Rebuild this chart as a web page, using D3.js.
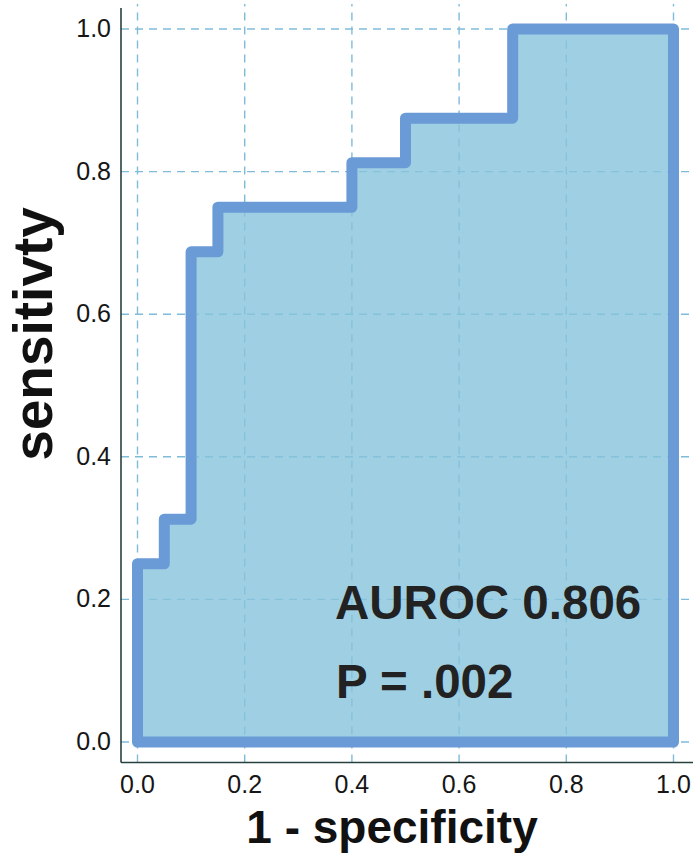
<!DOCTYPE html>
<html>
<head>
<meta charset="utf-8">
<script src="https://cdn.jsdelivr.net/npm/d3@7"></script>
<style>
  html, body { margin: 0; padding: 0; background: #fff; }
  svg { display: block; font-family: "Liberation Sans", Arial, sans-serif; }
</style>
</head>
<body>
<svg id="roc" width="693" height="858"></svg>
<script>
// ROC points (1 - specificity, sensitivity)
var rocFpr = [0, 0, 0.05, 0.10, 0.15, 0.40, 0.50, 0.70, 1.0];
var rocTpr = [0, 0.25, 0.3125, 0.6875, 0.75, 0.8125, 0.875, 1.0, 1.0];
var tickValues = [0, 0.2, 0.4, 0.6, 0.8, 1.0];
var xTitle = "1 - specificity";
var yTitle = "sensitivty";
var notes = ["AUROC 0.806", "P = .002"];

var svg = d3.select("svg#roc");
var axisX = 121, axisY = 762.5;

var xScale = d3.scaleLinear().domain([0, 1]).range([137.5, 673.5]);
var yScale = d3.scaleLinear().domain([0, 1]).range([742, 29]);

// grid
var grid = svg.append("g").attr("class", "grid")
  .style("stroke", "#7fbcd9").style("stroke-width", 1.4).style("stroke-dasharray", "8,6");
tickValues.forEach(function (t) {
  grid.append("line")
    .attr("x1", xScale(t)).attr("x2", xScale(t))
    .attr("y1", axisY).attr("y2", 4);
  grid.append("line")
    .attr("x1", axisX).attr("x2", 690)
    .attr("y1", yScale(t)).attr("y2", yScale(t));
});

// curve (step) closed along the bottom
var pts = rocFpr.map(function (f, i) { return [f, rocTpr[i]]; });
pts.push([1, 0]);
var line = d3.line()
  .x(function (d) { return xScale(d[0]); })
  .y(function (d) { return yScale(d[1]); })
  .curve(d3.curveStepAfter);

svg.append("path")
  .attr("d", line(pts) + "Z")
  .style("fill", "#87c3db").style("fill-opacity", 0.8)
  .style("stroke", "#6a9bd7").style("stroke-width", 11)
  .style("stroke-linejoin", "round");

// axes lines
svg.append("line").attr("x1", axisX).attr("x2", axisX).attr("y1", 8).attr("y2", axisY)
  .style("stroke", "#26403f").style("stroke-width", 1.6);
svg.append("line").attr("x1", axisX).attr("x2", 693).attr("y1", axisY).attr("y2", axisY)
  .style("stroke", "#26403f").style("stroke-width", 1.6);

// tick labels
var fmt = d3.format(".1f");
svg.append("g").selectAll("text").data(tickValues).join("text")
  .attr("x", function (d) { return xScale(d); }).attr("y", 793)
  .attr("text-anchor", "middle").style("font-size", "25px").style("fill", "#161616")
  .text(fmt);
svg.append("g").selectAll("text").data(tickValues).join("text")
  .attr("x", 111).attr("y", function (d) { return yScale(d) + 8; })
  .attr("text-anchor", "end").style("font-size", "25px").style("fill", "#161616")
  .text(fmt);

// titles
svg.append("text").attr("x", 392).attr("y", 843).attr("text-anchor", "middle")
  .style("font-size", "46px").style("font-weight", "bold").style("fill", "#111")
  .text(xTitle);
svg.append("text").attr("transform", "translate(52,334) rotate(-90)").attr("text-anchor", "middle")
  .style("font-size", "55px").style("font-weight", "bold").style("fill", "#111")
  .text(yTitle);

// annotations
svg.append("text").attr("x", 335).attr("y", 619).style("font-size", "47.5px")
  .style("font-weight", "bold").style("fill", "#222").text(notes[0]);
svg.append("text").attr("x", 336).attr("y", 698).style("font-size", "47.5px")
  .style("font-weight", "bold").style("fill", "#222").text(notes[1]);
</script>
</body>
</html>
